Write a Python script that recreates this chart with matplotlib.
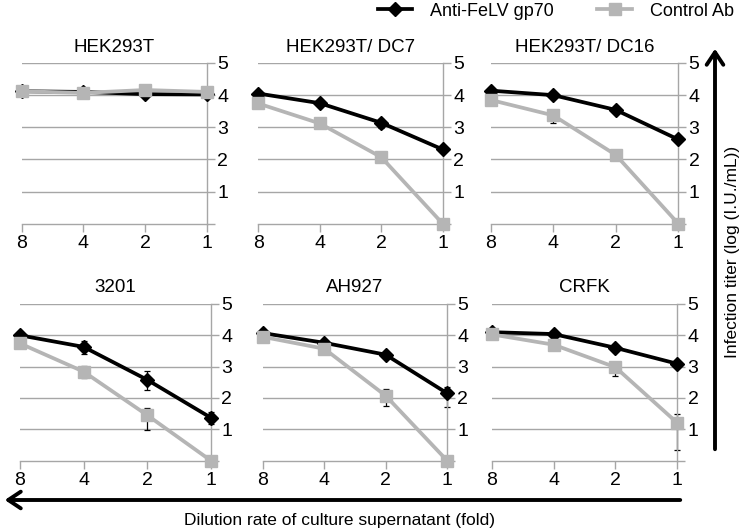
import matplotlib
matplotlib.use("Agg")
import matplotlib.pyplot as plt
from matplotlib.patches import FancyArrowPatch
import numpy as np

plt.rcParams['font.family'] = ['Liberation Sans', 'DejaVu Sans']

W, H = 742, 531
DPI = 100

dilutions = ["8", "4", "2", "1"]
titles = ["HEK293T", "HEK293T/ DC7", "HEK293T/ DC16", "3201", "AH927", "CRFK"]
series_names = ["Anti-FeLV gp70", "Control Ab"]

anti_vals = [
    [4.12, 4.10, 4.03, 4.02],
    [4.05, 3.75, 3.14, 2.31],
    [4.14, 4.00, 3.54, 2.62],
    [4.00, 3.63, 2.58, 1.37],
    [4.07, 3.76, 3.38, 2.15],
    [4.10, 4.04, 3.60, 3.09],
]
anti_err_lo = [
    [0.05, 0.05, 0.05, 0.04],
    [0.05, 0.06, 0.15, 0.05],
    [0.04, 0.04, 0.05, 0.08],
    [0.05, 0.23, 0.32, 0.20],
    [0.05, 0.05, 0.08, 0.45],
    [0.05, 0.05, 0.06, 0.08],
]
anti_err_hi = [
    [0.05, 0.05, 0.05, 0.04],
    [0.05, 0.06, 0.12, 0.05],
    [0.04, 0.04, 0.05, 0.08],
    [0.05, 0.20, 0.28, 0.17],
    [0.05, 0.05, 0.06, 0.20],
    [0.05, 0.05, 0.06, 0.08],
]
ctrl_vals = [
    [4.12, 4.07, 4.16, 4.10],
    [3.74, 3.12, 2.07, 0.0],
    [3.85, 3.37, 2.14, 0.0],
    [3.74, 2.84, 1.45, 0.0],
    [3.95, 3.57, 2.07, 0.0],
    [4.03, 3.70, 2.98, 1.20],
]
ctrl_err_lo = [
    [0.04, 0.04, 0.04, 0.04],
    [0.04, 0.05, 0.05, 0.0],
    [0.04, 0.25, 0.06, 0.0],
    [0.04, 0.20, 0.48, 0.0],
    [0.04, 0.10, 0.32, 0.0],
    [0.04, 0.05, 0.27, 0.86],
]
ctrl_err_hi = [
    [0.04, 0.04, 0.04, 0.04],
    [0.04, 0.05, 0.05, 0.0],
    [0.04, 0.05, 0.06, 0.0],
    [0.04, 0.18, 0.22, 0.0],
    [0.04, 0.08, 0.20, 0.0],
    [0.04, 0.05, 0.18, 0.28],
]
y_ticks = [0, 1, 2, 3, 4, 5]
y_ticklabels = ["", "1", "2", "3", "4", "5"]

# panel boxes in pixels: (left, right, top(y=5), bottom(y=0))
boxes = [
    (21.7, 207.0, 63.0, 223.7),
    (258.3, 442.7, 63.0, 223.7),
    (490.7, 678.3, 63.0, 223.7),
    (20.0, 210.7, 304.0, 460.5),
    (263.0, 447.0, 304.0, 460.5),
    (491.7, 677.3, 304.0, 460.5),
]

BLACK = "#000000"
GRAY = "#b5b5b5"
GRID = "#a6a6a6"
TICK_FS = 14
TITLE_FS = 13.5
LEG_FS = 13
LAB_FS = 12.5

fig = plt.figure(figsize=(W / DPI, H / DPI), dpi=DPI)

handles = []
for i, (l, r, t, b) in enumerate(boxes):
    ax = fig.add_axes([l / W, 1 - b / H, (r - l) / W, (b - t) / H])
    x = np.arange(len(dilutions))
    ax.set_xlim(0, len(dilutions) - 1)
    ax.set_ylim(0, 5)
    for s in ["top", "left"]:
        ax.spines[s].set_visible(False)
    for s in ["right", "bottom"]:
        ax.spines[s].set_color(GRID)
        ax.spines[s].set_linewidth(1.0)
    ax.yaxis.tick_right()
    ax.set_yticks(y_ticks)
    ax.set_yticklabels(y_ticklabels)
    ax.set_xticks(x)
    ax.set_xticklabels(dilutions)
    ax.tick_params(axis='both', colors=GRID, labelcolor='black', labelsize=TICK_FS,
                   length=6, width=1.0, direction='out')
    ax.tick_params(axis='y', pad=1.5)
    ax.tick_params(axis='x', pad=2)
    for yv in y_ticks[1:]:
        ax.axhline(yv, color=GRID, lw=1.0, zorder=0)
    ax.errorbar(x, anti_vals[i], yerr=[anti_err_lo[i], anti_err_hi[i]], fmt='none',
                ecolor=BLACK, elinewidth=0.9, capsize=2.5, capthick=0.9, zorder=2,
                clip_on=False)
    ax.errorbar(x, ctrl_vals[i], yerr=[ctrl_err_lo[i], ctrl_err_hi[i]], fmt='none',
                ecolor=BLACK, elinewidth=0.9, capsize=2.5, capthick=0.9, zorder=2,
                clip_on=False)
    h1, = ax.plot(x, anti_vals[i], color=BLACK, lw=2.7, marker='D', ms=7.5,
                  clip_on=False, zorder=3, label=series_names[0])
    h2, = ax.plot(x, ctrl_vals[i], color=GRAY, lw=2.7, marker='s', ms=8.5,
                  clip_on=False, zorder=4, label=series_names[1])
    cx = (l + r) / 2
    fig.text(cx / W, 1 - (t - 16) / H, titles[i], ha='center', va='center', fontsize=TITLE_FS)
    if i == 0:
        handles = [h1, h2]

fig.legend(handles, series_names, loc='center right', bbox_to_anchor=(741 / W, 1 - 11 / H),
           ncol=2, frameon=False, fontsize=LEG_FS, handlelength=1.9, columnspacing=2.4,
           handletextpad=1.0, borderaxespad=0)

# vertical arrow (infection titer)
va = FancyArrowPatch((715 / W, 1 - 452 / H), (715 / W, 1 - 46 / H), transform=fig.transFigure,
                     arrowstyle='->,head_length=6,head_width=4', lw=2.8, color='black',
                     mutation_scale=1.5)
fig.add_artist(va)
fig.text(733 / W, 1 - 252 / H, "Infection titer (log (I.U./mL))", rotation=90,
         ha='center', va='center', fontsize=LAB_FS)

# horizontal arrow (dilution)
ha_ = FancyArrowPatch((683 / W, 1 - 500 / H), (2 / W, 1 - 500 / H), transform=fig.transFigure,
                      arrowstyle='->,head_length=6,head_width=4', lw=2.8, color='black',
                      mutation_scale=1.5)
fig.add_artist(ha_)
fig.text(340 / W, 1 - 521 / H, "Dilution rate of culture supernatant (fold)",
         ha='center', va='center', fontsize=LAB_FS)

fig.savefig("out.png", dpi=DPI)
